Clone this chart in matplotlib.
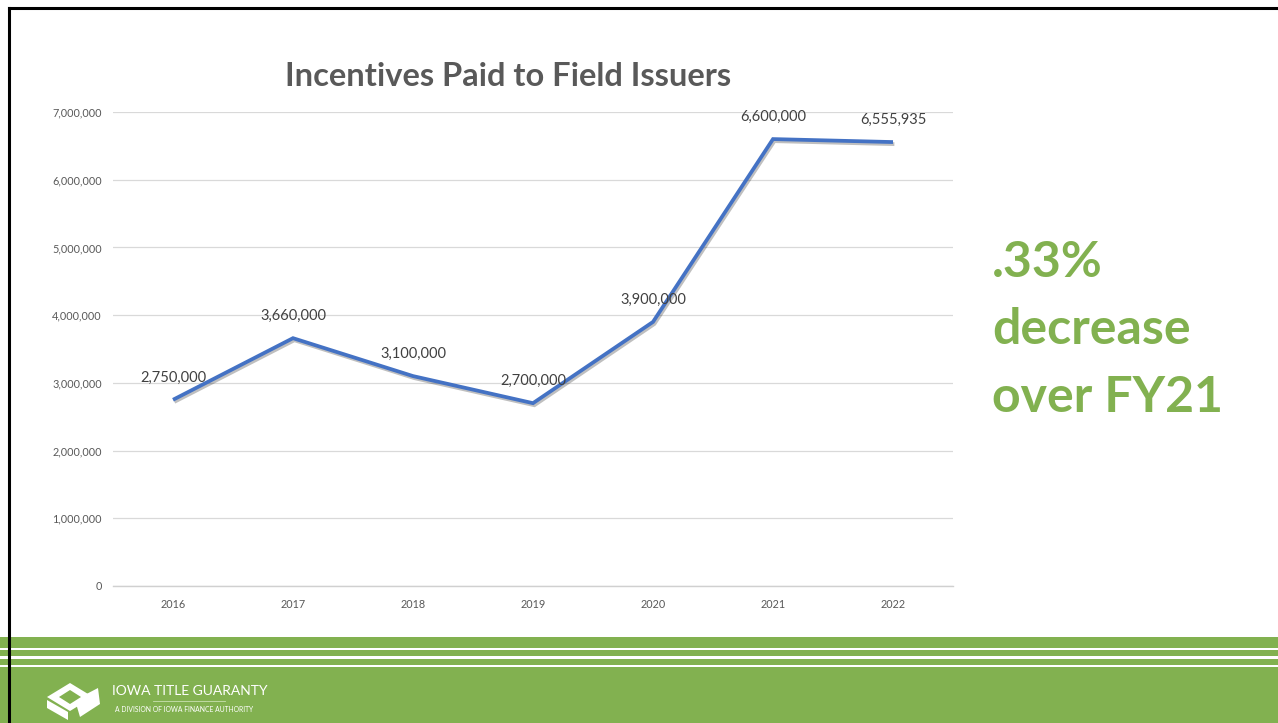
import matplotlib.pyplot as plt
import matplotlib.patheffects as pe
from matplotlib.patches import Rectangle, Polygon
from matplotlib.lines import Line2D
from matplotlib.ticker import FuncFormatter

years = ['2016', '2017', '2018', '2019', '2020', '2021', '2022']
incentives = [2750000, 3660000, 3100000, 2700000, 3900000, 6600000, 6555935]
y_ticks = [0, 1000000, 2000000, 3000000, 4000000, 5000000, 6000000, 7000000]

W, H = 1278, 723
green = '#82B150'
gray = '#595959'
plt.rcParams['font.family'] = ['Lato', 'DejaVu Sans']

fig = plt.figure(figsize=(W / 100, H / 100), dpi=100)
fig.patch.set_facecolor('white')

# chart area
ax = fig.add_axes([113 / W, 137 / H, 840 / W, 474 / H])
x = list(range(len(years)))
ax.plot(x, incentives, color='#4472C4', lw=2.7, solid_capstyle='butt',
        solid_joinstyle='miter', zorder=3,
        path_effects=[pe.SimpleLineShadow(offset=(1, -1.5), alpha=0.25), pe.Normal()])
for xi, v in zip(x, incentives):
    ax.annotate(f'{v:,}', (xi, v), xytext=(0, 11), textcoords='offset points',
                ha='center', va='bottom', fontsize=10.5, color='#404040')

ax.set_xlim(-0.5, len(years) - 0.5)
ax.set_ylim(0, 7000000)
ax.set_yticks(y_ticks)
ax.yaxis.set_major_formatter(FuncFormatter(lambda v, p: f'{int(v):,}'))
ax.set_xticks(x)
ax.set_xticklabels(years)
ax.tick_params(axis='both', length=0, labelsize=7.8, labelcolor=gray)
ax.tick_params(axis='y', pad=8)
ax.tick_params(axis='x', pad=9)
ax.grid(axis='y', color='#D9D9D9', lw=0.9)
ax.set_axisbelow(True)
for s in ['top', 'right', 'left']:
    ax.spines[s].set_visible(False)
ax.spines['bottom'].set_color('#D0D0D0')
ax.spines['bottom'].set_linewidth(1.0)

fig.text(508 / W, 1 - 77 / H, 'Incentives Paid to Field Issuers', ha='center', va='center',
         fontsize=23.5, fontweight='bold', color=gray)

# side note
fig.text(992 / W, 1 - 330 / H, '.33%\ndecrease\nover FY21', ha='left', va='center',
         fontsize=36, fontweight='bold', color=green, linespacing=1.6)

# footer band with stripes
def band(y0, y1, color):
    fig.add_artist(Rectangle((0, 1 - y1 / H), 1, (y1 - y0) / H, transform=fig.transFigure,
                             facecolor=color, edgecolor='none', zorder=1))

band(637, 723, green)
for y0, y1 in [(647.5, 650), (656.3, 658.6), (664.5, 667)]:
    band(y0, y1, 'white')

# logo (simplified cubes)
def poly(pts):
    fig.add_artist(Polygon([(px / W, 1 - py / H) for px, py in pts], closed=True,
                           transform=fig.transFigure, facecolor='white', edgecolor='none',
                           zorder=2))

poly([(47, 697), (70, 683), (93, 697), (70, 711)])
poly([(75, 700), (98, 688), (100, 704), (80, 717)])
poly([(47, 700), (68, 712), (68, 720), (47, 708)])
fig.add_artist(Polygon([(59 / W, 1 - 697 / H), (70 / W, 1 - 690 / H), (81 / W, 1 - 697 / H),
                        (70 / W, 1 - 704 / H)], closed=True, transform=fig.transFigure,
                       facecolor=green, edgecolor='none', zorder=3))
fig.text(112 / W, 1 - 691 / H, 'IOWA TITLE GUARANTY', ha='left', va='center',
         fontsize=10, color='white')
fig.add_artist(Line2D([153 / W, 225 / W], [1 - 701 / H, 1 - 701 / H], color='#C9E0B0',
                      lw=0.6, transform=fig.transFigure, zorder=3))
fig.text(115 / W, 1 - 710 / H, 'A DIVISION OF IOWA FINANCE AUTHORITY', ha='left', va='center',
         fontsize=4.9, color='white')

# slide border
fig.add_artist(Line2D([9 / W, 1], [1 - 8 / H, 1 - 8 / H], color='black', lw=2.2,
                      transform=fig.transFigure, zorder=5))
fig.add_artist(Line2D([9 / W, 9 / W], [0, 1 - 8 / H], color='black', lw=2.2,
                      transform=fig.transFigure, zorder=5))

fig.savefig('out.png', dpi=100)
